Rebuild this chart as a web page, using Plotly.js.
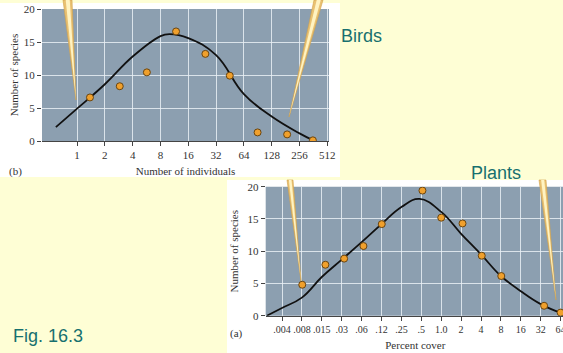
<!DOCTYPE html>
<html>
<head>
<meta charset="utf-8">
<script src="https://cdn.plot.ly/plotly-3.0.1.min.js"></script>
<style>
html,body{margin:0;padding:0;overflow:hidden;background:#FEFED5;}
#chart{width:575px;height:353px;}
</style>
</head>
<body>
<div id="chart"></div>
<script>
// ---- Data ----
// Birds (b): number of individuals (log2 scale) vs number of species
const birdsX = [1.38, 2.9, 5.7, 11.8, 24.5, 45, 90, 188, 357];
const birdsY = [6.6, 8.3, 10.4, 16.6, 13.2, 9.9, 1.3, 1.0, 0.1];
const birdsCurveX = [0.59, 1, 2, 4, 8, 10, 16, 32, 64, 128, 256, 360];
const birdsCurveY = [2.1, 4.9, 8.6, 12.8, 15.9, 16.2, 15.6, 13.0, 7.1, 3.7, 1.15, 0.1];
const birdsTickVals = [1, 2, 4, 8, 16, 32, 64, 128, 256, 512];
const birdsTickText = ["1", "2", "4", "8", "16", "32", "64", "128", "256", "512"];

// Plants (a): percent cover (log2 scale) vs number of species
const plantsX = [0.0079, 0.0177, 0.034, 0.0666, 0.126, 0.52, 1.0, 2.1, 4.1, 8.1, 36, 64];
const plantsY = [4.8, 7.9, 8.85, 10.8, 14.2, 19.4, 15.2, 14.3, 9.3, 6.15, 1.54, 0.48];
const plantsCurveX = [0.0023, 0.0039, 0.0078, 0.0156, 0.03125, 0.0625, 0.125, 0.25, 0.47, 1, 2, 4, 8, 16, 32, 64, 80];
const plantsCurveY = [0, 1.2, 2.8, 6.0, 8.7, 11.4, 14.2, 16.85, 18.1, 16.1, 12.7, 9.5, 6.15, 3.8, 1.8, 0.5, 0.35];
const plantsTickVals = [0.00390625, 0.0078125, 0.015625, 0.03125, 0.0625, 0.125, 0.25, 0.5, 1, 2, 4, 8, 16, 32, 64];
const plantsTickText = [".004", ".008", ".015", ".03", ".06", ".12", ".25", ".5", "1.0", "2", "4", "8", "16", "32", "64"];

const speciesTicks = [0, 5, 10, 15, 20];

// ---- Layout helpers ----
const W = 575, H = 353;
const px = x => x / W;
const py = y => 1 - y / H;
const serif = "Liberation Serif, Times New Roman, serif";
const teal = "#17706F";
const tickFont = {family: serif, size: 11, color: "#333"};

const markerStyle = {size: 7, color: "#F0A02C", line: {color: "#6A4510", width: 1}};
const curveStyle = {color: "#111", width: 1.8, shape: "spline", smoothing: 1.2};

const traces = [
  {x: birdsCurveX, y: birdsCurveY, mode: "lines", line: curveStyle, xaxis: "x", yaxis: "y", hoverinfo: "skip"},
  {x: birdsX, y: birdsY, mode: "markers", marker: markerStyle, xaxis: "x", yaxis: "y"},
  {x: plantsCurveX, y: plantsCurveY, mode: "lines", line: curveStyle, xaxis: "x2", yaxis: "y2", hoverinfo: "skip"},
  {x: plantsX, y: plantsY, mode: "markers", marker: markerStyle, xaxis: "x2", yaxis: "y2"}
];

const gridColor = "rgba(232,238,244,0.85)";
const l2 = Math.log10(2);

function needle(x1, x2, yTop, tx, ty) {
  return [
    {type: "path", xref: "paper", yref: "paper", layer: "above",
     path: `M ${px(x1)} ${py(yTop)} L ${px(x2)} ${py(yTop)} L ${px(tx)} ${py(ty)} Z`,
     fillcolor: "#E9C172", line: {color: "#D4A24A", width: 0.6}},
    {type: "path", xref: "paper", yref: "paper", layer: "above",
     path: `M ${px(x1 + (x2 - x1) * 0.3)} ${py(yTop)} L ${px(x2 - (x2 - x1) * 0.25)} ${py(yTop)} L ${px(tx)} ${py(ty)} Z`,
     fillcolor: "#FFF3C2", line: {width: 0}}
  ];
}

const layout = {
  width: W, height: H,
  margin: {l: 0, r: 0, t: 0, b: 0},
  paper_bgcolor: "#FEFED5",
  plot_bgcolor: "rgba(0,0,0,0)",
  showlegend: false,
  xaxis: {
    type: "log", domain: [px(42), px(329)],
    range: [-1.26 * l2, 9.06 * l2],
    tickvals: birdsTickVals, ticktext: birdsTickText, tickangle: 0,
    ticks: "outside", ticklen: 4, tickcolor: "#444", tickfont: tickFont,
    showgrid: true, gridcolor: gridColor, gridwidth: 1,
    showline: true, linecolor: "#444", linewidth: 1, zeroline: false,
    title: {text: "Number of individuals", font: {family: serif, size: 11, color: "#333"}, standoff: 7},
    anchor: "y", fixedrange: true
  },
  yaxis: {
    domain: [py(141), py(9)], range: [0, 20],
    tickvals: speciesTicks,
    ticks: "outside", ticklen: 4, tickcolor: "#444", tickfont: tickFont,
    showgrid: true, gridcolor: gridColor, gridwidth: 1,
    showline: false, zeroline: false,
    title: {text: "Number of species", font: {family: serif, size: 11, color: "#333"}, standoff: 2},
    anchor: "x", fixedrange: true
  },
  xaxis2: {
    type: "log", domain: [px(265.7), px(565)],
    range: [-8.82 * l2, 6.22 * l2],
    tickvals: plantsTickVals, ticktext: plantsTickText, tickangle: 0,
    ticks: "outside", ticklen: 4, tickcolor: "#444", tickfont: {family: serif, size: 10, color: "#333"},
    showgrid: true, gridcolor: gridColor, gridwidth: 1,
    showline: true, linecolor: "#444", linewidth: 1, zeroline: false,
    title: {text: "Percent cover", font: {family: serif, size: 11, color: "#333"}, standoff: 7},
    anchor: "y2", fixedrange: true
  },
  yaxis2: {
    domain: [py(315.7), py(186.7)], range: [0, 20],
    tickvals: speciesTicks,
    ticks: "outside", ticklen: 4, tickcolor: "#444", tickfont: tickFont,
    showgrid: true, gridcolor: gridColor, gridwidth: 1,
    showline: false, zeroline: false,
    title: {text: "Number of species", font: {family: serif, size: 11, color: "#333"}, standoff: 6},
    anchor: "x2", fixedrange: true
  },
  shapes: [
    // white figure panels
    {type: "rect", xref: "paper", yref: "paper", layer: "below",
     x0: px(0), x1: px(340), y0: py(177), y1: py(3), fillcolor: "#FFFFFF", line: {width: 0}},
    {type: "rect", xref: "paper", yref: "paper", layer: "below",
     x0: px(227), x1: px(575), y0: py(353), y1: py(180), fillcolor: "#FFFFFF", line: {width: 0}},
    // plot area backgrounds
    {type: "rect", xref: "x domain", yref: "y domain", layer: "below",
     x0: 0, x1: 1, y0: 0, y1: 1, fillcolor: "#8C9FB0", line: {width: 0}},
    {type: "rect", xref: "x2 domain", yref: "y2 domain", layer: "below",
     x0: 0, x1: 1, y0: 0, y1: 1, fillcolor: "#8C9FB0", line: {width: 0}},
    // callout needles
    ...needle(63, 72, 0, 76, 100),
    ...needle(314, 323, 0, 289, 117),
    ...needle(287, 293, 180, 301, 281),
    ...needle(539, 546, 180, 556, 300)
  ],
  annotations: [
    {text: "Birds", xref: "paper", yref: "paper", x: px(339), y: py(36), xanchor: "left", yanchor: "middle",
     showarrow: false, font: {family: "Liberation Sans, Arial, sans-serif", size: 18, color: teal}},
    {text: "Plants", xref: "paper", yref: "paper", x: px(469), y: py(173), xanchor: "left", yanchor: "middle",
     showarrow: false, font: {family: "Liberation Sans, Arial, sans-serif", size: 18, color: teal}},
    {text: "Fig. 16.3", xref: "paper", yref: "paper", x: px(11), y: py(336), xanchor: "left", yanchor: "middle",
     showarrow: false, font: {family: "Liberation Sans, Arial, sans-serif", size: 18, color: teal}},
    {text: "(b)", xref: "paper", yref: "paper", x: px(7), y: py(172), xanchor: "left", yanchor: "middle",
     showarrow: false, font: {family: serif, size: 11, color: "#333"}},
    {text: "(a)", xref: "paper", yref: "paper", x: px(228), y: py(333), xanchor: "left", yanchor: "middle",
     showarrow: false, font: {family: serif, size: 11, color: "#333"}}
  ]
};

Plotly.newPlot("chart", traces, layout, {displayModeBar: false, staticPlot: true});
</script>
</body>
</html>
